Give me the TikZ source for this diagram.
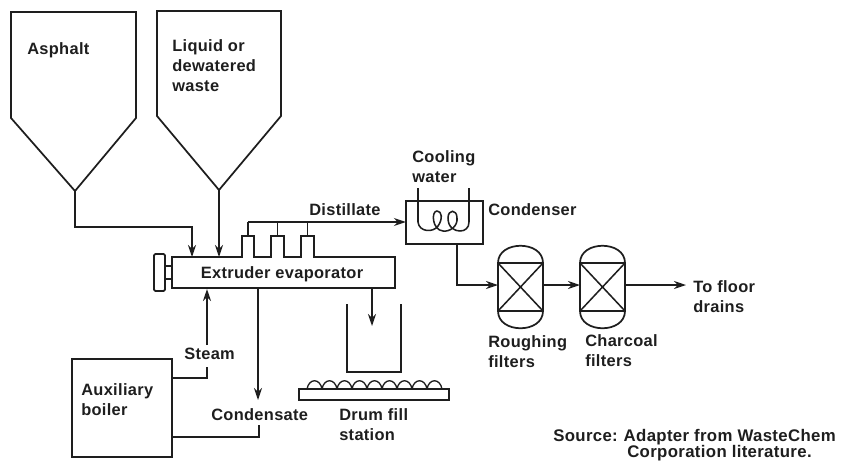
\documentclass[tikz,border=0pt]{standalone}
\usepackage{fontspec}
\setmainfont{Liberation Sans}[LetterSpace=2]
\usetikzlibrary{arrows.meta,calc}
\definecolor{ink}{HTML}{1E1E1E}
\tikzset{
  pipe/.style={draw=ink,line width=1.15pt},
  flow/.style={pipe,-{Stealth[length=9pt,width=6pt]}},
  unit/.style={draw=ink,line width=1.3pt,inner sep=0pt,outer sep=0pt,rectangle},
  lab/.style={font=\bfseries\fontsize{12.3}{15}\selectfont,text=ink,inner sep=0pt,anchor=west,align=left},
  srclab/.style={lab,font=\bfseries\fontsize{12.6}{14}\selectfont},
}
\begin{document}
\begin{tikzpicture}[x=0.75pt,y=-0.75pt]
\useasboundingbox (0,0) rectangle (845,462);
% hoppers
\draw[pipe,line width=1.3pt] (11,12) -- (136,12) -- (136,118) -- (75,191) -- (11,118) -- cycle;
\draw[pipe,line width=1.3pt] (157,11) -- (281,11) -- (281,116) -- (219,190) -- (157,116) -- cycle;
\coordinate (hopA) at (75,191);
\coordinate (hopB) at (219,190);
\node[lab] (asphalt) at (27,50) {Asphalt};
\node[lab,anchor=north west] (liquid) at (172,39) {Liquid or\\dewatered\\waste};
% extruder
\node[unit,minimum width=167.25pt,minimum height=23.25pt] (ext) at (283.5,272.5) {};
\node[lab,anchor=center] (extlab) at (282,274) {Extruder evaporator};
\node[unit,minimum width=8.25pt,minimum height=27.75pt,rounded corners=1pt] (knob) at (159.5,272.5) {};
\draw[pipe] (165,266) -- (172,266) (165,279) -- (172,279);
% stacks
\foreach \n/\a/\b in {1/242/254,2/271/284,3/301/314}{
  \draw[pipe,line width=1.3pt,fill=white] (\a,257) -- (\a,236) -- (\b,236) -- (\b,257);
  \coordinate (st\n) at ({(\a+\b)/2},236);
  \coordinate (hd\n) at ({(\a+\b)/2},222);
  \draw[pipe] (st\n) -- (hd\n);
}
\draw[pipe,draw=white,line width=1.6pt] (243,257) -- (253,257) (272,257) -- (283,257) (302,257) -- (313,257);
% inlet pipes
\coordinate (inA) at (192,257);
\coordinate (inB) at (219,257);
\draw[flow] (hopA) |- (192,227) -- (inA);
\draw[flow] (hopB) -- (inB);
% condenser
\node[unit,minimum width=58pt,minimum height=32.25pt] (cond) at (444.5,222.5) {};
\node[lab] (distlab) at (309,210) {Distillate};
\draw[flow] (hd1) -- (cond.west |- hd1);
\node[lab,anchor=north west] (cool) at (412,150) {Cooling\\water};
\node[lab] (condlab) at (488,210) {Condenser};
\draw[pipe] (418,188) -- (418,222)
  .. controls (419,232) and (433,233) .. (438,226)
  .. controls (443,219) and (442,211) .. (437,211)
  .. controls (431,211) and (432,230) .. (443,231)
  .. controls (450,232) and (458,226) .. (457,218)
  .. controls (457,209) and (448,209) .. (448,218)
  .. controls (448,228) and (455,231) .. (460,231)
  .. controls (465,231) and (469,228) .. (469,222) -- (469,188);
% filters
\foreach \n/\c in {rough/520.5,char/602.5}{
  \draw[pipe,line width=1.3pt] (\c-22.5,263) .. controls (\c-22.5,240) and (\c+22.5,240) .. (\c+22.5,263) -- (\c+22.5,311)
     .. controls (\c+22.5,334) and (\c-22.5,334) .. (\c-22.5,311) -- cycle;
  \draw[pipe] (\c-22.5,263) -- (\c+22.5,263) (\c-22.5,311) -- (\c+22.5,311)
     (\c-22.5,263) -- (\c+22.5,311) (\c-22.5,311) -- (\c+22.5,263);
  \node[minimum width=33.75pt,minimum height=61.5pt,inner sep=0pt,outer sep=0pt] (\n) at (\c,287) {};
}
\coordinate (condout) at (457,244);
\draw[flow] (condout) |- (rough.west |- 0,285);
\draw[flow] (rough.east |- 0,285) -- (char.west |- 0,285);
\coordinate (drain) at (686,285);
\draw[flow] (char.east |- 0,285) -- (drain);
\node[lab] (floor) at (693,286.5) {To floor};
\node[lab] (drains) at (693,307) {drains};
\node[lab,anchor=north west] (roughlab) at (488,335) {Roughing\\filters};
\node[lab,anchor=north west] (charlab) at (585,334) {Charcoal\\filters};
% boiler
\node[unit,minimum width=75pt,minimum height=73.5pt] (boiler) at (122,408) {};
\node[lab,anchor=north west] (boillab) at (81,383) {Auxiliary\\boiler};
\node[lab] (steam) at (184,354) {Steam};
\coordinate (stIn) at (207,289);
\coordinate (stGap) at (207,367);
\draw[pipe] (boiler.east |- 0,378) -| (stGap);
\draw[flow] (207,345) -- (stIn);
% condensate
\node[lab] (condens) at (211,415) {Condensate};
\coordinate (cOut) at (258,288);
\coordinate (cArr) at (258,400);
\draw[flow] (cOut) -- (cArr);
\draw[pipe] (259,425) |- (boiler.east |- 0,437);
% drum
\draw[pipe,line width=1.3pt] (347,304) -- (347,372) -- (401,372) -- (401,304);
\coordinate (dOut) at (372,288);
\coordinate (dArr) at (372,326);
\draw[flow] (dOut) -- (dArr);
\node[unit,minimum width=112.5pt,minimum height=8.25pt] (plat) at (374,394.5) {};
\foreach \i in {0,...,8}{
  \draw[pipe,line width=1pt] ({307+\i*15},389) .. controls ({309+\i*15},378) and ({320+\i*15},378) .. ({322+\i*15},389);
}
\node[lab,anchor=north west] (drumlab) at (339,408) {Drum fill\\station};
% source
\node[srclab] (src) at (553,437) {Source:\hspace{0.35em}Adapter from WasteChem};
\node[srclab] (src2) at (627,453) {Corporation literature.};
\end{tikzpicture}
\end{document}
